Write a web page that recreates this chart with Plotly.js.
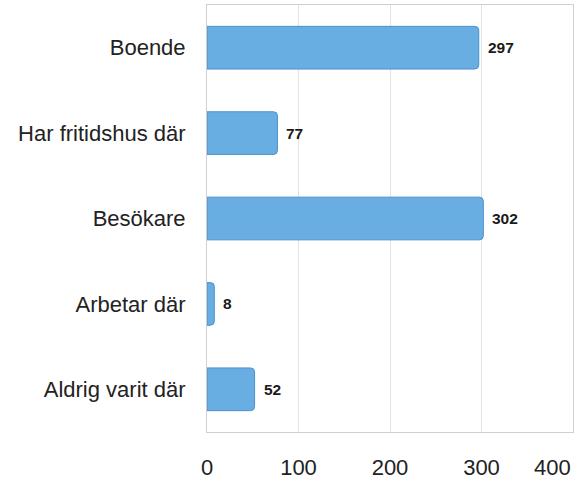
<!DOCTYPE html>
<html><head><meta charset="utf-8">
<script src="https://cdn.plot.ly/plotly-3.0.1.min.js"></script>
<style>html,body{margin:0;padding:0;background:#fff}#c{width:575px;height:479px}</style>
</head><body><div id="c"></div>
<script>
const categories = ["Boende", "Har fritidshus där", "Besökare", "Arbetar där", "Aldrig varit där"];
const values = [297, 77, 302, 8, 52];
const tickVals = [0, 100, 200, 300, 400];
const tickLabels = ["0", "100", "200", "300", "400"];

const FONT = 'Liberation Sans, Arial, sans-serif';
const trace = {
  type: 'bar', orientation: 'h',
  x: values, y: categories,
  marker: {color: '#68aee3', line: {color: '#4d90cf', width: 1}, cornerradius: 4},
  hoverinfo: 'none'
};
const lastIdx = tickVals.length - 1;
const valueLabels = values.map((v, i) => ({
  xref: 'x', yref: 'y', x: v, y: categories[i], xanchor: 'left', yanchor: 'middle',
  xshift: 7, text: '<b>' + v + '</b>', showarrow: false,
  font: {family: FONT, size: 15.5, color: '#1a1a1a'}
}));
const layout = {
  width: 575, height: 479,
  margin: {l: 207, r: 2, t: 5, b: 47},
  paper_bgcolor: '#fff', plot_bgcolor: '#fff',
  showlegend: false,
  bargap: 0.5,
  font: {family: FONT, size: 22, color: '#222'},
  xaxis: {range: [0, 400], tickvals: tickVals.slice(0, lastIdx), ticktext: tickLabels.slice(0, lastIdx),
    showgrid: true, gridcolor: '#e3e3e3', gridwidth: 1, zeroline: false,
    showline: true, linecolor: '#d0d0d0', linewidth: 1, mirror: true,
    ticks: 'outside', ticklen: 16, tickcolor: 'rgba(0,0,0,0)',
    tickfont: {size: 22, color: '#222'}, fixedrange: true},
  yaxis: {autorange: 'reversed', showgrid: false, zeroline: false,
    showline: true, linecolor: '#d0d0d0', linewidth: 1, mirror: true,
    ticks: 'outside', ticklen: 16, tickcolor: 'rgba(0,0,0,0)',
    tickfont: {size: 22, color: '#222'}, fixedrange: true},
  annotations: valueLabels.concat([{xref: 'x', yref: 'paper', x: tickVals[lastIdx], y: 0, yshift: -35,
    text: tickLabels[lastIdx], showarrow: false, xanchor: 'right', yanchor: 'middle',
    font: {family: FONT, size: 22, color: '#222'}}])
};
Plotly.newPlot('c', [trace], layout, {displayModeBar: false, staticPlot: true});
</script></body></html>
